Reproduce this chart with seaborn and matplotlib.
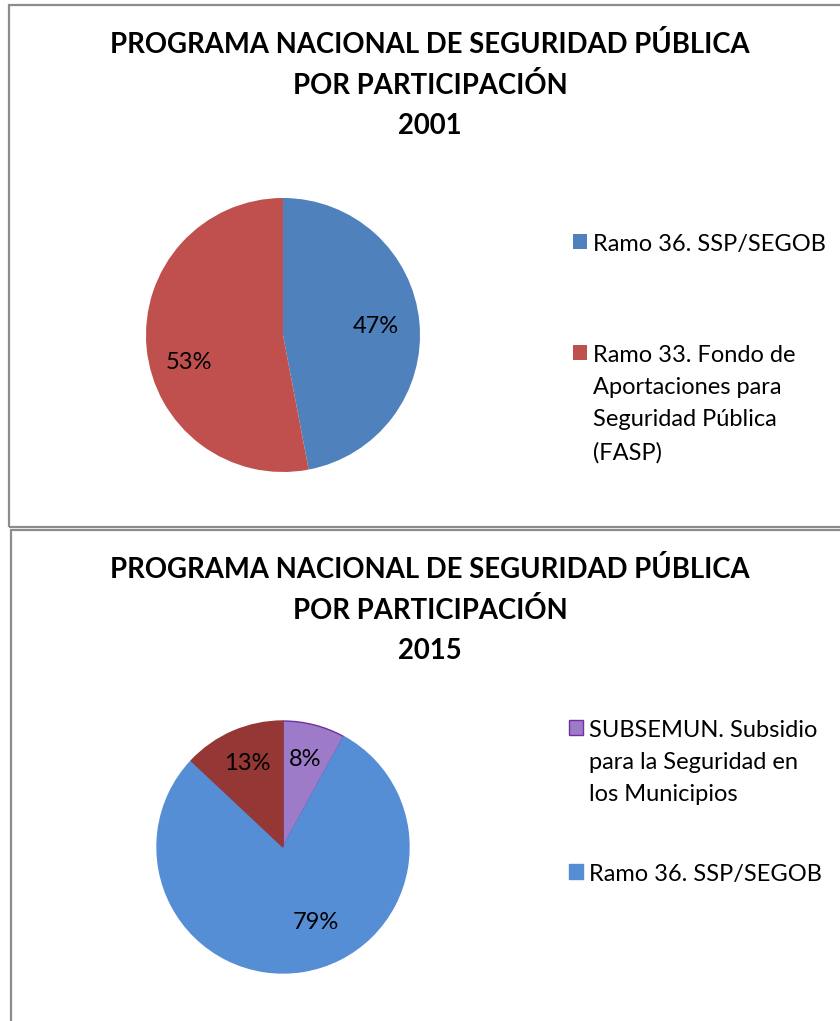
import matplotlib
matplotlib.use("Agg")
import matplotlib.pyplot as plt
import seaborn as sns
from matplotlib.patches import Rectangle

sns.set_theme(style="white")
plt.rcParams['font.family'] = ['Lato', 'DejaVu Sans']
plt.rcParams['text.color'] = 'black'

# data
title_2001 = "PROGRAMA NACIONAL DE SEGURIDAD PÚBLICA\nPOR PARTICIPACIÓN\n2001"
labels_2001 = ["Ramo 36. SSP/SEGOB",
               "Ramo 33. Fondo de\nAportaciones para\nSeguridad Pública\n(FASP)"]
values_2001 = [47, 53]
colors_2001 = ["#4F81BD", "#C0504D"]

title_2015 = "PROGRAMA NACIONAL DE SEGURIDAD PÚBLICA\nPOR PARTICIPACIÓN\n2015"
labels_2015 = ["SUBSEMUN. Subsidio\npara la Seguridad en\nlos Municipios",
               "Ramo 36. SSP/SEGOB",
               "Ramo 33. FASP"]
values_2015 = [8, 79, 13]
colors_2015 = ["#9E7BC8", "#558ED5", "#953735"]
edges_2015 = ["#7030A0", "#558ED5", "#953735"]

W, H = 840, 1021
fig = plt.figure(figsize=(W / 100, H / 100), dpi=100)

def px(x0, y0, w, h):
    return [x0 / W, 1 - (y0 + h) / H, w / W, h / H]

def top_align(leg, spacing):
    # put the square next to the first line of a wrapped label
    for col in leg._legend_handle_box.get_children():
        for row in col.get_children():
            row.align = "top"
    for t in leg.get_texts():
        t.set_linespacing(spacing)

# frames
fig.patches.append(Rectangle((9 / W, 1 - 527 / H), 1.2, 522 / H, transform=fig.transFigure,
                             fill=False, edgecolor="#8c8c8c", lw=1.6))
fig.patches.append(Rectangle((11 / W, -0.2), 1.2, 1 - 530 / H + 0.2, transform=fig.transFigure,
                             fill=False, edgecolor="#8c8c8c", lw=1.6))

# titles
fig.text(430 / W, 1 - 85 / H, title_2001, ha="center", va="center", fontsize=19.8,
         fontweight="bold", linespacing=1.65)
fig.text(430 / W, 1 - 610 / H, title_2015, ha="center", va="center", fontsize=19.8,
         fontweight="bold", linespacing=1.65)

leg_kw = dict(loc="upper left", frameon=False, fontsize=17, handlelength=0.6,
              handleheight=0.6, handletextpad=0.25, borderaxespad=0, borderpad=0)

# pie 2001
r1 = 137
ax1 = fig.add_axes(px(283 - r1, 335 - r1, 2 * r1, 2 * r1))
w1, _, t1 = ax1.pie(values_2001, colors=colors_2001, startangle=90, counterclock=False,
                    autopct="%.0f%%", pctdistance=0.68,
                    wedgeprops=dict(linewidth=0),
                    textprops=dict(fontsize=17, color="black"))
t1[1].set_position((-0.69, -0.2))   # excel best-fit spot
ax1.set_xlim(-1, 1)
ax1.set_ylim(-1, 1)
leg1 = fig.legend(w1, labels_2001, bbox_to_anchor=(573 / W, 1 - 234 / H),
                  labelspacing=3.8, **leg_kw)
top_align(leg1, 1.66)

# pie 2015
r2 = 126
ax2 = fig.add_axes(px(283 - r2, 847 - r2, 2 * r2, 2 * r2))
w2, _, t2 = ax2.pie(values_2015, colors=colors_2015, startangle=90, counterclock=False,
                    autopct="%.0f%%", pctdistance=0.72,
                    textprops=dict(fontsize=17, color="black"))
t2[1].set_position((0.26, -0.6))
for w, e in zip(w2, edges_2015):
    w.set_edgecolor(e)
    w.set_linewidth(1)
ax2.set_xlim(-1, 1)
ax2.set_ylim(-1, 1)
leg2 = fig.legend(w2[:2], labels_2015[:2], bbox_to_anchor=(569 / W, 1 - 720 / H),
                  labelspacing=2.5, **leg_kw)
top_align(leg2, 1.66)

fig.savefig("out.png", dpi=100)
